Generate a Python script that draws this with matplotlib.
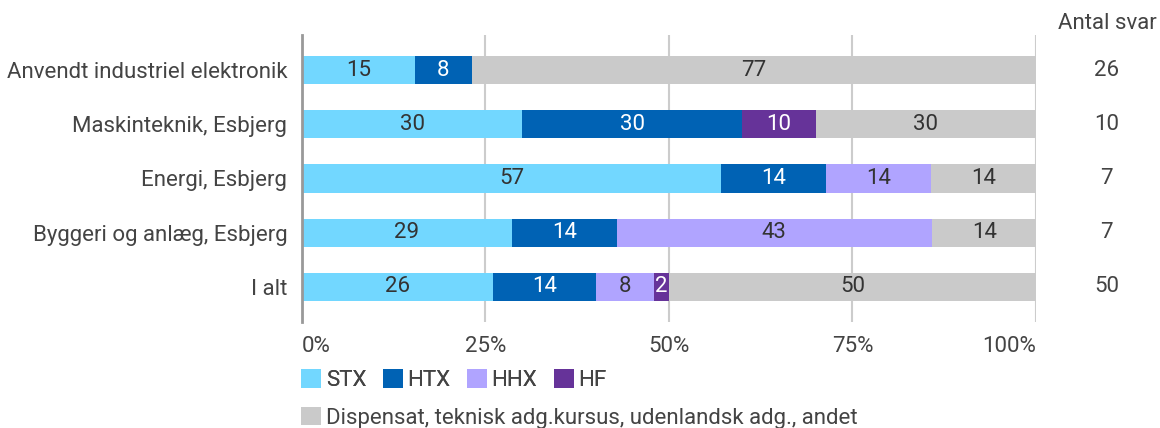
import matplotlib.pyplot as plt
from matplotlib.patches import Patch
import numpy as np

plt.rcParams["font.family"] = ["Roboto", "DejaVu Sans"]

categories = [
    "Anvendt industriel elektronik",
    "Maskinteknik, Esbjerg",
    "Energi, Esbjerg",
    "Byggeri og anlæg, Esbjerg",
    "I alt",
]
series_names = ["STX", "HTX", "HHX", "HF",
                "Dispensat, teknisk adg.kursus, udenlandsk adg., andet"]
stx = [15.4, 30.0, 57.1, 28.6, 26.0]
htx = [7.7, 30.0, 14.3, 14.3, 14.0]
hhx = [0.0, 0.0, 14.3, 42.9, 8.0]
hf = [0.0, 10.0, 0.0, 0.0, 2.0]
andet = [76.9, 30.0, 14.3, 14.3, 50.0]
antal_svar = [26, 10, 7, 7, 50]
x_ticks = [0, 25, 50, 75, 100]
x_tick_labels = ["0%", "25%", "50%", "75%", "100%"]

colors = ["#72D7FF", "#0062B4", "#B0A4FF", "#663399", "#CACACA"]
label_colors = ["#333333", "#FFFFFF", "#333333", "#FFFFFF", "#333333"]
text_color = "#444444"
fs = 16

fig = plt.figure(figsize=(11.6, 4.28), dpi=100)
ax = fig.add_axes([0.2603, 0.2477, 0.6328, 0.6706])

y = np.arange(len(categories))
left = np.zeros(len(categories))
for vals, name, col, lcol in zip([stx, htx, hhx, hf, andet], series_names,
                                 colors, label_colors):
    vals = np.asarray(vals)
    ax.barh(y, vals, left=left, height=0.52, color=col, label=name, zorder=3)
    for yi, (l, v) in enumerate(zip(left, vals)):
        if v > 0:
            ax.text(l + v / 2, yi, f"{v:.0f}", ha="center", va="center",
                    fontsize=fs, color=lcol, zorder=4)
    left = left + vals

ax.set_ylim(len(categories) - 0.35, -0.65)
ax.set_xlim(0, 100)
ax.set_yticks(y)
ax.set_yticklabels(categories, fontsize=fs, color=text_color)
ax.set_xticks(x_ticks)
ax.set_xticklabels(x_tick_labels, fontsize=fs, color=text_color)
tl = ax.get_xticklabels()
tl[0].set_ha("left")
tl[-1].set_ha("right")
ax.tick_params(axis="both", length=0)
ax.tick_params(axis="y", pad=10.5)
ax.tick_params(axis="x", pad=10)
ax.grid(axis="x", color="#CCCCCC", linewidth=1.5, zorder=0)
for s in ["top", "right", "bottom"]:
    ax.spines[s].set_visible(False)
ax.spines["left"].set_color("#999999")
ax.spines["left"].set_linewidth(2)
ax.spines["left"].set_zorder(5)

# Antal svar column
fig.text(0.955, 0.946, "Antal svar", ha="center", va="center",
         fontsize=fs, color=text_color)
for yi, n in enumerate(antal_svar):
    ax.text(1.0966, yi, str(n), transform=ax.get_yaxis_transform(),
            ha="center", va="center", fontsize=fs, color=text_color)

handles = [Patch(facecolor=c, edgecolor="none") for c in colors]
leg1 = fig.legend(handles[:4], series_names[:4], loc="center left",
                  bbox_to_anchor=(0.252, 0.112), ncol=4, frameon=False,
                  fontsize=fs, handlelength=0.9, handleheight=0.9,
                  handletextpad=0.2, columnspacing=0.75, borderaxespad=0,
                  labelcolor=text_color)
leg2 = fig.legend(handles[4:], series_names[4:], loc="center left",
                  bbox_to_anchor=(0.252, 0.024), ncol=1, frameon=False,
                  fontsize=fs, handlelength=0.9, handleheight=0.9,
                  handletextpad=0.2, borderaxespad=0, labelcolor=text_color)
fig.add_artist(leg1)

fig.savefig("out.png", dpi=100)
plt.close(fig)
